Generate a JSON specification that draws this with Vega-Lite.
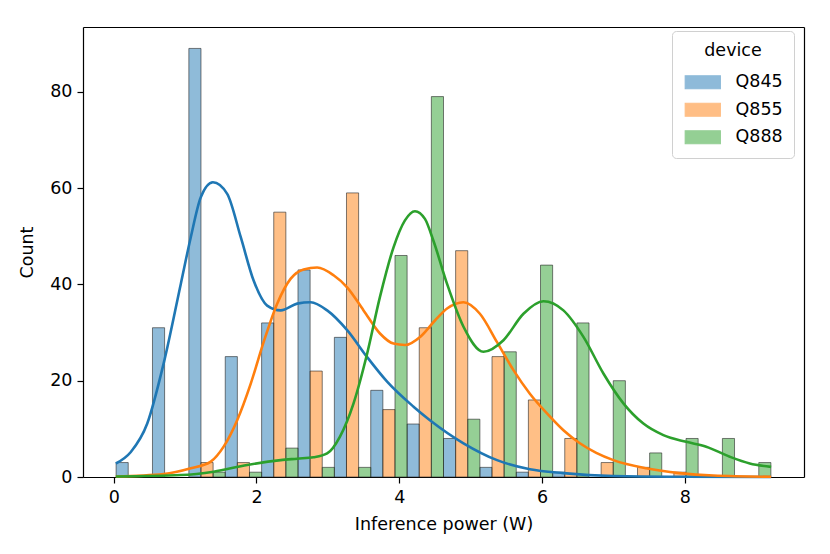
{
  "$schema": "https://vega.github.io/schema/vega-lite/v6.json",
  "width": 721,
  "height": 450,
  "autosize": {"type": "none"},
  "padding": {"left": 83, "top": 27, "right": 26, "bottom": 77},
  "background": "#ffffff",
  "datasets": {
    "bars": [
      {"bin": 0.03, "device": "Q845", "count": 3},
      {"bin": 0.54, "device": "Q845", "count": 31},
      {"bin": 1.05, "device": "Q845", "count": 89},
      {"bin": 1.56, "device": "Q845", "count": 25},
      {"bin": 2.07, "device": "Q845", "count": 32},
      {"bin": 2.58, "device": "Q845", "count": 43},
      {"bin": 3.09, "device": "Q845", "count": 29},
      {"bin": 3.60, "device": "Q845", "count": 18},
      {"bin": 4.11, "device": "Q845", "count": 11},
      {"bin": 4.62, "device": "Q845", "count": 8},
      {"bin": 5.13, "device": "Q845", "count": 2},
      {"bin": 5.64, "device": "Q845", "count": 1},
      {"bin": 6.15, "device": "Q845", "count": 1},
      {"bin": 1.05, "device": "Q855", "count": 3},
      {"bin": 1.56, "device": "Q855", "count": 3},
      {"bin": 2.07, "device": "Q855", "count": 55},
      {"bin": 2.58, "device": "Q855", "count": 22},
      {"bin": 3.09, "device": "Q855", "count": 59},
      {"bin": 3.60, "device": "Q855", "count": 14},
      {"bin": 4.11, "device": "Q855", "count": 31},
      {"bin": 4.62, "device": "Q855", "count": 47},
      {"bin": 5.13, "device": "Q855", "count": 25},
      {"bin": 5.64, "device": "Q855", "count": 16},
      {"bin": 6.15, "device": "Q855", "count": 8},
      {"bin": 6.66, "device": "Q855", "count": 3},
      {"bin": 7.17, "device": "Q855", "count": 2},
      {"bin": 7.68, "device": "Q855", "count": 1},
      {"bin": 1.05, "device": "Q888", "count": 1},
      {"bin": 1.56, "device": "Q888", "count": 1},
      {"bin": 2.07, "device": "Q888", "count": 6},
      {"bin": 2.58, "device": "Q888", "count": 2},
      {"bin": 3.09, "device": "Q888", "count": 2},
      {"bin": 3.60, "device": "Q888", "count": 46},
      {"bin": 4.11, "device": "Q888", "count": 79},
      {"bin": 4.62, "device": "Q888", "count": 12},
      {"bin": 5.13, "device": "Q888", "count": 26},
      {"bin": 5.64, "device": "Q888", "count": 44},
      {"bin": 6.15, "device": "Q888", "count": 32},
      {"bin": 6.66, "device": "Q888", "count": 20},
      {"bin": 7.17, "device": "Q888", "count": 5},
      {"bin": 7.68, "device": "Q888", "count": 8},
      {"bin": 8.19, "device": "Q888", "count": 8},
      {"bin": 8.70, "device": "Q888", "count": 3}
    ],
    "kde": [
      {"device": "Q845", "power": 0.03, "count": 2.8},
      {"device": "Q845", "power": 0.24, "count": 5.2},
      {"device": "Q845", "power": 0.47, "count": 11.1},
      {"device": "Q845", "power": 0.70, "count": 23.6},
      {"device": "Q845", "power": 0.94, "count": 40.1},
      {"device": "Q845", "power": 1.08, "count": 49.8},
      {"device": "Q845", "power": 1.22, "count": 58.1},
      {"device": "Q845", "power": 1.39, "count": 61.2},
      {"device": "Q845", "power": 1.59, "count": 58.8},
      {"device": "Q845", "power": 1.78, "count": 49.8},
      {"device": "Q845", "power": 1.96, "count": 40.8},
      {"device": "Q845", "power": 2.15, "count": 35.6},
      {"device": "Q845", "power": 2.34, "count": 34.6},
      {"device": "Q845", "power": 2.57, "count": 36.0},
      {"device": "Q845", "power": 2.76, "count": 36.3},
      {"device": "Q845", "power": 2.99, "count": 34.6},
      {"device": "Q845", "power": 3.27, "count": 30.5},
      {"device": "Q845", "power": 3.55, "count": 24.9},
      {"device": "Q845", "power": 3.83, "count": 19.8},
      {"device": "Q845", "power": 4.20, "count": 14.6},
      {"device": "Q845", "power": 4.43, "count": 11.8},
      {"device": "Q845", "power": 4.90, "count": 7.0},
      {"device": "Q845", "power": 5.37, "count": 3.5},
      {"device": "Q845", "power": 5.83, "count": 1.6},
      {"device": "Q845", "power": 6.30, "count": 0.8},
      {"device": "Q845", "power": 7.00, "count": 0.2},
      {"device": "Q845", "power": 8.00, "count": 0.05},
      {"device": "Q845", "power": 9.21, "count": 0.0},
      {"device": "Q855", "power": 0.03, "count": 0.1},
      {"device": "Q855", "power": 0.70, "count": 0.6},
      {"device": "Q855", "power": 1.08, "count": 1.8},
      {"device": "Q855", "power": 1.36, "count": 3.2},
      {"device": "Q855", "power": 1.54, "count": 6.3},
      {"device": "Q855", "power": 1.73, "count": 11.8},
      {"device": "Q855", "power": 1.92, "count": 19.4},
      {"device": "Q855", "power": 2.10, "count": 28.0},
      {"device": "Q855", "power": 2.29, "count": 36.0},
      {"device": "Q855", "power": 2.48, "count": 41.2},
      {"device": "Q855", "power": 2.66, "count": 43.1},
      {"device": "Q855", "power": 2.85, "count": 43.5},
      {"device": "Q855", "power": 3.08, "count": 41.9},
      {"device": "Q855", "power": 3.27, "count": 39.4},
      {"device": "Q855", "power": 3.50, "count": 34.6},
      {"device": "Q855", "power": 3.73, "count": 29.8},
      {"device": "Q855", "power": 3.92, "count": 27.7},
      {"device": "Q855", "power": 4.08, "count": 27.4},
      {"device": "Q855", "power": 4.30, "count": 29.2},
      {"device": "Q855", "power": 4.50, "count": 32.5},
      {"device": "Q855", "power": 4.67, "count": 35.0},
      {"device": "Q855", "power": 4.90, "count": 36.3},
      {"device": "Q855", "power": 5.13, "count": 33.9},
      {"device": "Q855", "power": 5.37, "count": 28.0},
      {"device": "Q855", "power": 5.60, "count": 22.2},
      {"device": "Q855", "power": 5.83, "count": 17.3},
      {"device": "Q855", "power": 6.07, "count": 13.2},
      {"device": "Q855", "power": 6.30, "count": 9.7},
      {"device": "Q855", "power": 6.53, "count": 7.0},
      {"device": "Q855", "power": 6.76, "count": 5.0},
      {"device": "Q855", "power": 7.00, "count": 3.5},
      {"device": "Q855", "power": 7.46, "count": 1.8},
      {"device": "Q855", "power": 7.93, "count": 0.8},
      {"device": "Q855", "power": 8.40, "count": 0.3},
      {"device": "Q855", "power": 9.21, "count": 0.05},
      {"device": "Q888", "power": 0.03, "count": 0.1},
      {"device": "Q888", "power": 0.94, "count": 0.4},
      {"device": "Q888", "power": 1.40, "count": 1.1},
      {"device": "Q888", "power": 1.87, "count": 2.5},
      {"device": "Q888", "power": 2.34, "count": 3.5},
      {"device": "Q888", "power": 2.57, "count": 3.8},
      {"device": "Q888", "power": 2.80, "count": 4.1},
      {"device": "Q888", "power": 2.99, "count": 4.9},
      {"device": "Q888", "power": 3.17, "count": 8.4},
      {"device": "Q888", "power": 3.36, "count": 15.3},
      {"device": "Q888", "power": 3.55, "count": 25.6},
      {"device": "Q888", "power": 3.73, "count": 37.4},
      {"device": "Q888", "power": 3.92, "count": 47.7},
      {"device": "Q888", "power": 4.08, "count": 53.3},
      {"device": "Q888", "power": 4.22, "count": 55.2},
      {"device": "Q888", "power": 4.36, "count": 53.6},
      {"device": "Q888", "power": 4.48, "count": 49.0},
      {"device": "Q888", "power": 4.67, "count": 40.1},
      {"device": "Q888", "power": 4.90, "count": 31.2},
      {"device": "Q888", "power": 5.18, "count": 26.0},
      {"device": "Q888", "power": 5.46, "count": 28.4},
      {"device": "Q888", "power": 5.74, "count": 33.9},
      {"device": "Q888", "power": 6.02, "count": 36.5},
      {"device": "Q888", "power": 6.30, "count": 34.6},
      {"device": "Q888", "power": 6.58, "count": 29.1},
      {"device": "Q888", "power": 6.86, "count": 21.5},
      {"device": "Q888", "power": 7.14, "count": 15.3},
      {"device": "Q888", "power": 7.42, "count": 11.1},
      {"device": "Q888", "power": 7.70, "count": 8.7},
      {"device": "Q888", "power": 8.02, "count": 7.3},
      {"device": "Q888", "power": 8.30, "count": 6.3},
      {"device": "Q888", "power": 8.63, "count": 4.2},
      {"device": "Q888", "power": 8.91, "count": 2.8},
      {"device": "Q888", "power": 9.21, "count": 2.1}
    ]
  },
  "layer": [
    {
      "data": {"name": "bars"},
      "mark": {"type": "bar", "fillOpacity": 0.5, "stroke": "#222222", "strokeOpacity": 0.65, "strokeWidth": 0.9},
      "encoding": {
        "x": {
          "field": "bin", "type": "ordinal",
          "scale": {"paddingInner": 0, "paddingOuter": 0.91},
          "axis": {"orient": "top", "labels": false, "ticks": false, "title": null, "domain": true}
        },
        "xOffset": {
          "field": "device", "type": "nominal",
          "scale": {"paddingInner": 0, "paddingOuter": 0}
        },
        "y": {
          "field": "count", "type": "quantitative",
          "scale": {"domain": [0, 93.45], "nice": false},
          "axis": {"orient": "right", "labels": false, "ticks": false, "title": null, "domain": true}
        },
        "color": {
          "field": "device", "type": "nominal", "title": "device",
          "scale": {"domain": ["Q845", "Q855", "Q888"], "range": ["#1f77b4", "#ff7f0e", "#2ca02c"]},
          "legend": {
            "orient": "none", "legendX": 589, "legendY": 4,
            "symbolType": "M-1,-1H4.4V1H-1Z", "symbolSize": 169,
            "labelOffset": 35,
            "symbolOpacity": 0.5,
            "symbolStrokeColor": "#000000",
            "symbolStrokeWidth": 1.2
          }
        }
      }
    },
    {
      "data": {"name": "kde"},
      "mark": {"type": "line", "strokeWidth": 2.6, "interpolate": "monotone"},
      "encoding": {
        "x": {
          "field": "power", "type": "quantitative",
          "scale": {"domain": [-0.43, 9.67], "nice": false, "zero": false},
          "axis": {"title": "Inference power (W)", "values": [0, 2, 4, 6, 8]}
        },
        "y": {
          "field": "count", "type": "quantitative",
          "scale": {"domain": [0, 93.45], "nice": false},
          "axis": {"title": "Count", "values": [0, 20, 40, 60, 80]}
        },
        "color": {"field": "device", "type": "nominal", "legend": null},
        "detail": {"field": "device"}
      }
    }
  ],
  "resolve": {"scale": {"x": "independent"}, "axis": {"y": "independent"}},
  "config": {
    "font": "DejaVu Sans",
    "view": {"stroke": null},
    "axis": {
      "grid": false,
      "domainColor": "#000000",
      "domainWidth": 1.2,
      "tickColor": "#000000",
      "tickWidth": 1.2,
      "tickSize": 6,
      "labelColor": "#000000",
      "titleColor": "#000000",
      "labelFont": "DejaVu Sans",
      "titleFont": "DejaVu Sans",
      "labelFontSize": 17.5,
      "titleFontSize": 17.5,
      "titleFontWeight": "normal",
      "labelPadding": 5
    },
    "axisX": {"titlePadding": 10},
    "axisY": {"titlePadding": 13},
    "legend": {
      "padding": 11,
      "cornerRadius": 4,
      "strokeColor": "#d0d0d0",
      "fillColor": "#ffffff",
      "titleFont": "DejaVu Sans",
      "labelFont": "DejaVu Sans",
      "titleFontSize": 17.5,
      "labelFontSize": 17.5,
      "titleFontWeight": "normal",
      "titleColor": "#000000",
      "labelColor": "#000000",
      "titleAnchor": "middle",
      "titlePadding": 14,
      "rowPadding": 8.5
    }
  }
}
